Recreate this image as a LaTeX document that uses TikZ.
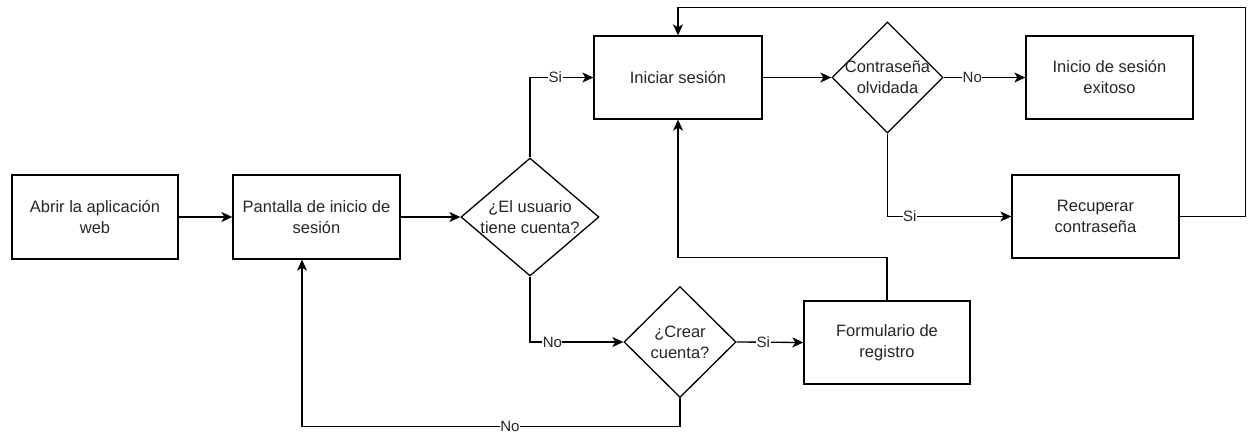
\documentclass[tikz,border=0pt]{standalone}
\usepackage{fontspec}
\setmainfont{Liberation Sans}
\usetikzlibrary{shapes.geometric,arrows.meta}
\begin{document}
\begin{tikzpicture}[x=1pt,y=-1pt,
  box/.style={draw,line width=1.3pt,fill=white,inner sep=0pt,align=center,
    text=black!85,font=\fontsize{16.5}{21}\selectfont,minimum width=167pt,minimum height=84pt},
  dia/.style={draw,diamond,line width=1.3pt,fill=white,inner sep=0pt},
  dtext/.style={align=center,text=black!85,font=\fontsize{16.5}{21}\selectfont,inner sep=0pt},
  arr/.style={line width=1.3pt,-{Stealth[length=11pt,width=10pt,inset=3pt]}},
  lbl/.style={fill=white,inner sep=0.5pt,text=black!85,font=\fontsize{15}{18}\selectfont}]
\useasboundingbox (0,0) rectangle (1248,437);

\node[box,minimum width=166pt] (abrir) at (95,217) {Abrir la aplicación\\web};
\node[box] (pant) at (316.5,217) {Pantalla de inicio de\\sesión};
\node[box,minimum width=168pt,minimum height=83pt] (inic) at (678,77.5) {Iniciar sesión};
\node[box,minimum height=83pt] (exit) at (1109.5,77.5) {Inicio de sesión\\exitoso};
\node[box,minimum height=83pt] (recu) at (1095.5,216.5) {Recuperar\\contraseña};
\node[box,minimum width=166pt,minimum height=83pt] (form) at (887,342.5) {Formulario de\\registro};

\node[dia,minimum width=138pt,minimum height=118pt] (d1) at (530,217) {};
\node[dtext] (d1t) at (d1) {¿El usuario\\tiene cuenta?};
\node[dia,minimum width=111pt,minimum height=111pt] (d2) at (887.5,77.5) {};
\node[dtext] (d2t) at (d2) {Contraseña\\olvidada};
\node[dia,minimum width=112pt,minimum height=111pt] (d3) at (680,342) {};
\node[dtext] (d3t) at (d3) {¿Crear\\cuenta?};

\draw[arr] (abrir) -- (pant);
\draw[arr] (pant) -- (d1);
\draw[arr] (d1.north) |- node[lbl,pos=0.7]{Si} (inic.west);
\draw[arr] (d1.south) |- node[lbl,pos=0.62]{No} (d3.west);
\draw[arr] (d3.east) -- node[lbl,pos=0.4]{Si} (form.west);
\draw[arr] (d3.south) -- ++(0,28) -| node[lbl,pos=0.225]{No} ([xshift=-14.5pt]pant.south);
\draw[arr] (form.north) -- ++(0,-43) -| (inic.south);
\draw[arr] (inic) -- (d2);
\draw[arr] (d2) -- node[lbl,pos=0.35]{No} (exit);
\draw[arr] (d2.south) |- node[lbl,pos=0.59]{Si} (recu.west);
\draw[arr] (recu.east) -- ++(66,0) |- ([yshift=28pt]inic.north) -- (inic.north);
\end{tikzpicture}
\end{document}
